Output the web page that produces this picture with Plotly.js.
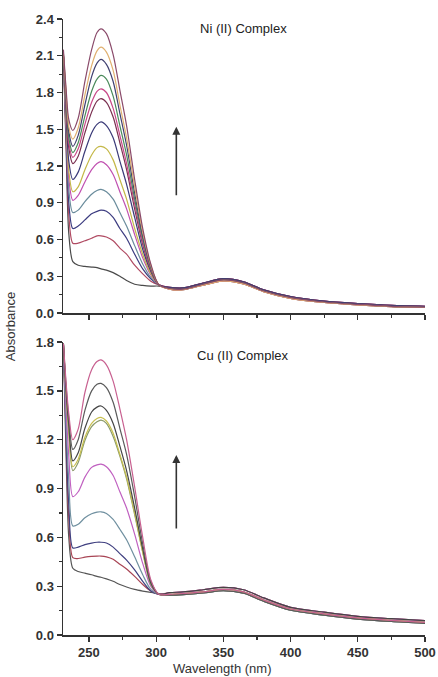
<!DOCTYPE html>
<html>
<head>
<meta charset="utf-8">
<script src="https://cdn.plot.ly/plotly-3.0.1.min.js"></script>
<style>html,body{margin:0;padding:0;background:#fff;}#chart{width:438px;height:677px;}</style>
</head>
<body>
<div id="chart"></div>
<script>
// Wavelength grids (nm)
const wlHead = [231,233,235,238,242,247,252,256,259,263,268,273,278,284,290,296,302];
const wlTail = [310,320,335,350,365,380,400,425,450,475,500];

// Ni (II) complex: UV region of each spectrum (lowest to highest)
const ni1  = [2.10,1.35,0.65,0.42,0.39,0.38,0.375,0.37,0.36,0.35,0.33,0.30,0.265,0.235,0.225,0.22,0.22];
const ni2  = [2.10,1.41,0.80,0.57,0.57,0.59,0.61,0.63,0.63,0.62,0.59,0.53,0.48,0.39,0.32,0.26,0.23];
const ni3  = [2.10,1.47,0.90,0.69,0.71,0.76,0.81,0.83,0.84,0.83,0.78,0.69,0.61,0.48,0.36,0.28,0.23];
const ni4  = [2.10,1.52,1.01,0.82,0.84,0.91,0.97,1.00,1.01,0.99,0.93,0.82,0.71,0.55,0.40,0.29,0.23];
const ni5  = [2.10,1.57,1.10,0.92,0.96,1.07,1.17,1.22,1.235,1.21,1.13,0.99,0.85,0.64,0.45,0.31,0.23];
const ni6  = [2.10,1.60,1.16,0.99,1.03,1.17,1.29,1.35,1.36,1.34,1.25,1.09,0.93,0.69,0.48,0.32,0.23];
const ni7  = [2.10,1.65,1.24,1.09,1.15,1.32,1.47,1.54,1.56,1.53,1.43,1.24,1.05,0.78,0.52,0.34,0.23];
const ni8  = [2.10,1.70,1.35,1.22,1.28,1.47,1.64,1.73,1.75,1.72,1.60,1.39,1.17,0.85,0.56,0.35,0.23];
const ni9  = [2.10,1.73,1.39,1.27,1.34,1.54,1.72,1.81,1.83,1.80,1.67,1.45,1.22,0.89,0.58,0.36,0.23];
const ni10 = [2.10,1.75,1.43,1.31,1.39,1.61,1.81,1.91,1.94,1.91,1.77,1.53,1.29,0.93,0.61,0.37,0.23];
const ni11 = [2.12,1.78,1.48,1.36,1.45,1.70,1.93,2.04,2.07,2.03,1.89,1.63,1.37,0.98,0.63,0.38,0.23];
const ni12 = [2.12,1.80,1.52,1.42,1.51,1.78,2.02,2.14,2.17,2.13,1.98,1.70,1.43,1.03,0.66,0.39,0.23];
const ni13 = [2.15,1.83,1.58,1.49,1.59,1.89,2.15,2.29,2.32,2.28,2.11,1.82,1.53,1.09,0.69,0.40,0.23];
// Ni visible-region band
const niTailA = [0.200,0.195,0.235,0.270,0.245,0.180,0.125,0.090,0.070,0.055,0.048];
const niTailB = [0.210,0.205,0.245,0.280,0.255,0.190,0.135,0.097,0.077,0.062,0.055];
const niTailC = [0.195,0.190,0.228,0.262,0.238,0.175,0.120,0.086,0.066,0.052,0.045];
const niColors = ['#4a4a4a','#b04a62','#3c3c80','#6a8c9c','#c050b0','#c4b848','#3a3a78','#7a3050','#c84888','#4a8a5a','#404070','#e0b070','#8a4a6a'];

// Cu (II) complex
const cu1  = [1.79,1.10,0.60,0.41,0.39,0.38,0.37,0.36,0.355,0.345,0.33,0.31,0.295,0.28,0.27,0.262,0.255];
const cu2  = [1.79,1.18,0.72,0.475,0.47,0.478,0.483,0.485,0.485,0.48,0.465,0.435,0.405,0.36,0.31,0.27,0.25];
const cu3  = [1.79,1.22,0.80,0.535,0.54,0.555,0.565,0.57,0.57,0.565,0.54,0.50,0.46,0.40,0.33,0.27,0.25];
const cu4  = [1.79,1.30,0.95,0.67,0.68,0.72,0.745,0.755,0.757,0.747,0.71,0.65,0.585,0.48,0.37,0.28,0.25];
const cu5  = [1.79,1.40,1.10,0.85,0.88,0.97,1.03,1.045,1.05,1.034,0.98,0.88,0.78,0.62,0.44,0.30,0.25];
const cu6  = [1.79,1.48,1.24,1.01,1.06,1.195,1.28,1.31,1.32,1.30,1.22,1.10,0.96,0.74,0.51,0.31,0.25];
const cu7  = [1.79,1.49,1.26,1.034,1.08,1.215,1.30,1.33,1.337,1.315,1.24,1.11,0.97,0.75,0.51,0.32,0.25];
const cu8  = [1.79,1.50,1.29,1.07,1.12,1.27,1.37,1.40,1.407,1.38,1.30,1.16,1.01,0.78,0.53,0.32,0.25];
const cu9  = [1.79,1.53,1.33,1.14,1.20,1.38,1.50,1.54,1.546,1.52,1.43,1.27,1.11,0.85,0.56,0.33,0.25];
const cu10 = [1.79,1.55,1.36,1.20,1.265,1.49,1.63,1.68,1.69,1.66,1.56,1.39,1.20,0.91,0.60,0.34,0.25];
const cuTailA = [0.250,0.255,0.265,0.280,0.265,0.215,0.160,0.130,0.105,0.090,0.078];
const cuTailB = [0.260,0.265,0.278,0.292,0.278,0.228,0.170,0.140,0.115,0.100,0.088];
const cuTailC = [0.245,0.248,0.258,0.272,0.257,0.207,0.152,0.122,0.098,0.083,0.072];
const cuColors = ['#555555','#a84454','#404080','#7090a0','#c060c0','#8a9a6a','#c8c050','#454545','#5a5a5a','#c86090'];

const niSeries = [ni1,ni2,ni3,ni4,ni5,ni6,ni7,ni8,ni9,ni10,ni11,ni12,ni13];
const niTails = [niTailA,niTailB,niTailC];
const cuSeries = [cu1,cu2,cu3,cu4,cu5,cu6,cu7,cu8,cu9,cu10];
const cuTails = [cuTailA,cuTailB,cuTailC];

const wl = wlHead.concat(wlTail);
const traces = [];
niSeries.forEach((s,i)=>{
  traces.push({x: wl, y: s.concat(niTails[i%3]), xaxis:'x2', yaxis:'y2', type:'scatter', mode:'lines',
    line:{color:niColors[i], width:1.2, shape:'spline', smoothing:0.8}, hoverinfo:'skip'});
});
cuSeries.forEach((s,i)=>{
  traces.push({x: wl, y: s.concat(cuTails[i%3]), xaxis:'x', yaxis:'y', type:'scatter', mode:'lines',
    line:{color:cuColors[i], width:1.2, shape:'spline', smoothing:0.8}, hoverinfo:'skip'});
});

const tickFont = {family:'Liberation Sans, Arial, sans-serif', size:13, color:'#333', weight:'bold'};
const axBase = {showline:true, linecolor:'#333', linewidth:1.5, ticks:'outside', ticklen:5, tickwidth:1.3,
  tickcolor:'#333', showgrid:false, zeroline:false, tickfont:tickFont, fixedrange:true};

const layout = {
  width:438, height:677, margin:{l:63, r:13, t:19, b:42}, showlegend:false,
  paper_bgcolor:'#fff', plot_bgcolor:'#fff', hovermode:false,
  xaxis: Object.assign({}, axBase, {range:[230.7,500], dtick:50, tick0:250, anchor:'y',
    minor:{dtick:25, ticklen:3, tickwidth:1.2, tickcolor:'#333', ticks:'outside'}}),
  yaxis: Object.assign({}, axBase, {range:[0,1.8], dtick:0.3, tick0:0, tickformat:'.1f', domain:[0,0.4756], anchor:'x',
    minor:{dtick:0.15, ticklen:3, tickwidth:1.2, tickcolor:'#333', ticks:'outside'}}),
  xaxis2: Object.assign({}, axBase, {range:[230.7,500], dtick:50, tick0:250, anchor:'y2', showticklabels:false,
    minor:{dtick:25, ticklen:3, tickwidth:1.2, tickcolor:'#333', ticks:'outside'}}),
  yaxis2: Object.assign({}, axBase, {range:[0,2.4], dtick:0.3, tick0:0, tickformat:'.1f', domain:[0.5227,1], anchor:'x2',
    minor:{dtick:0.15, ticklen:3, tickwidth:1.2, tickcolor:'#333', ticks:'outside'}}),
  annotations:[
    {text:'Ni (II) Complex', xref:'x2', yref:'y2', x:331, y:2.32, showarrow:false,
     font:{family:'Liberation Sans, Arial, sans-serif', size:13, color:'#222'}, xanchor:'left', yanchor:'middle'},
    {text:'Cu (II) Complex', xref:'x', yref:'y', x:329, y:1.72, showarrow:false,
     font:{family:'Liberation Sans, Arial, sans-serif', size:13, color:'#222'}, xanchor:'left', yanchor:'middle'},
    {text:'', xref:'x2', yref:'y2', x:315, y:1.52, axref:'x2', ayref:'y2', ax:315, ay:0.95,
     showarrow:true, arrowhead:2, arrowsize:1, arrowwidth:1.6, arrowcolor:'#333'},
    {text:'', xref:'x', yref:'y', x:315, y:1.106, axref:'x', ayref:'y', ax:315, ay:0.645,
     showarrow:true, arrowhead:2, arrowsize:1, arrowwidth:1.6, arrowcolor:'#333'},
    {text:'Absorbance', xref:'paper', yref:'paper', x:-0.146, y:0.5, textangle:-90, showarrow:false,
     font:{family:'Liberation Sans, Arial, sans-serif', size:13, color:'#333'}, xanchor:'center', yanchor:'middle'},
    {text:'Wavelength (nm)', xref:'paper', yref:'paper', x:0.44, y:-0.055, showarrow:false,
     font:{family:'Liberation Sans, Arial, sans-serif', size:13, color:'#333'}, xanchor:'center', yanchor:'middle'}
  ]
};

Plotly.newPlot('chart', traces, layout, {staticPlot:true, displayModeBar:false});
</script>
</body>
</html>
